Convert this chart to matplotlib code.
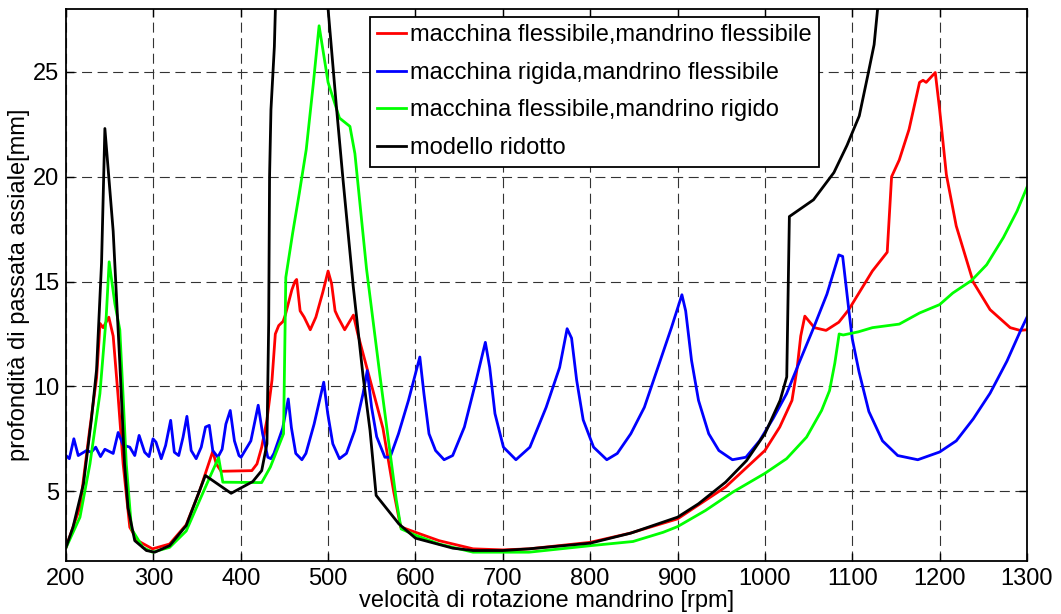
import matplotlib
matplotlib.use("Agg")
import matplotlib.pyplot as plt

# ---------------------------------------------------------------------------
# Data
# ---------------------------------------------------------------------------
RED_X = [200, 216, 227, 235, 239, 242.5, 249, 254, 259.7, 265.4, 273, 282, 299, 318.6,
         337.6, 352.8, 368, 372, 377.6, 412.7, 418.6, 424, 430, 435.8, 439.6, 443.5,
         448.5, 451, 458.5, 462, 464, 468, 472.6, 479.6, 486, 494, 500, 504, 508,
         511.3, 519, 529, 534, 547.5, 562.8, 575, 583, 600, 627, 666, 700, 730, 800,
         846, 900, 955, 1000, 1017, 1031, 1037, 1041, 1045.7, 1056.6, 1070, 1084.6,
         1096, 1123, 1140, 1145, 1153.8, 1165, 1177, 1181, 1184.6, 1195, 1200, 1207.7,
         1219, 1238.5, 1257.7, 1280.8, 1292, 1300]
RED_Y = [2.32, 4.24, 7.9, 10.4, 13.0, 12.8, 13.3, 12.4, 9.5, 6.3, 3.28, 2.64, 2.25, 2.48,
         3.4, 5.0, 6.9, 6.3, 5.95, 5.98, 6.3, 7.1, 8.4, 10.3, 12.5, 12.9,
         13.1, 13.4, 14.6, 15.0, 15.1, 13.6, 13.3, 12.7, 13.3, 14.5, 15.5, 14.9, 13.6,
         13.3, 12.7, 13.4, 12.5, 10.4, 8.0, 5.0, 3.3, 3.04, 2.64, 2.25, 2.2, 2.25, 2.56,
         3.0, 3.68, 5.2, 6.94, 8.06, 9.33, 10.9, 12.4, 13.35, 12.8, 12.67, 13.06,
         13.66, 15.5, 16.4, 20.0, 20.8, 22.26, 24.5, 24.6, 24.5, 24.97, 23.2, 20.1,
         17.65, 14.97, 13.66, 12.8, 12.67, 12.7]

BLUE_X = [200, 203.8, 209, 214, 223.6, 229, 234, 239.5, 244.5, 254, 259.7, 265.4, 273,
          278.7, 283.7, 290, 295, 299.6, 303, 309, 314, 319.8, 324, 329, 334, 338.4,
          343.3, 349, 354.8, 359.7, 364, 368, 373.8, 378.7, 383, 388, 392.8, 398,
          400.4, 411.6, 420, 425, 431, 434.5, 438, 448, 454.4, 458, 463, 470, 474.6,
          484, 495, 499.6, 505.4, 513, 521, 530.5, 540, 544.8, 549.8, 555.6, 565, 571,
          580.6, 592, 605, 609.7, 615.5, 623, 632.8, 642.6, 656, 669.6, 680, 685, 691,
          700.7, 715, 731, 749.6, 765, 773.6, 778.7, 784.5, 792, 803.9, 819, 831,
          846.5, 862, 877.5, 893, 905, 909.3, 916, 924, 935.7, 947.3, 962.8, 978.3,
          993.8, 1009.3, 1024.8, 1040.3, 1055.8, 1071, 1084.6, 1089, 1096, 1100,
          1107.7, 1119, 1134.6, 1152, 1175, 1200, 1219, 1238.5, 1257.7, 1277, 1292, 1300]
BLUE_Y = [6.7, 6.55, 7.5, 6.7, 6.94, 6.86, 7.1, 6.65, 7.0, 6.8, 7.8, 7.2, 7.1,
          6.7, 7.66, 6.86, 6.65, 7.5, 7.34, 6.55, 7.18, 8.38, 6.86, 6.7, 7.58, 8.57,
          6.94, 6.55, 7.1, 8.06, 8.14, 6.94, 6.62, 7.0, 8.2, 8.85, 7.4, 6.7,
          6.62, 7.4, 9.1, 7.75, 6.62, 6.55, 6.8, 8.0, 9.4, 8.03, 6.8, 6.5, 6.8,
          8.2, 10.2, 8.7, 7.26, 6.55, 6.8, 7.9, 9.65, 10.75, 9.0, 7.6, 6.62, 6.62,
          7.74, 9.33, 11.4, 9.65, 7.74, 6.94, 6.5, 6.7, 8.06, 10.3, 12.1, 10.9, 8.7,
          7.1, 6.5, 7.1, 9.0, 10.9, 12.75, 12.3, 10.3, 8.4, 7.1, 6.5, 6.8,
          7.74, 9.0, 10.9, 12.8, 14.37, 13.6, 11.24, 9.33, 7.74, 6.94, 6.5, 6.62,
          7.4, 8.46, 9.65, 11.24, 12.8, 14.4, 16.27, 16.2, 13.66, 12.27,
          10.7, 8.8, 7.4, 6.7, 6.5, 6.87, 7.4, 8.45, 9.67, 11.2, 12.6, 13.3]

GREEN_X = [200, 216, 227.4, 238.8, 246, 249.4, 255.9, 261.6, 265.4, 269, 275, 288, 299,
           318.6, 337.6, 352.8, 366, 374.7, 379.5, 424, 433.9, 449, 451.6, 459.4, 467,
           475, 483, 489.7, 500, 513, 525, 530.7, 544, 559.4, 578, 583.6, 600, 627, 666,
           700, 730, 800, 849, 883.6, 900, 932, 963, 1000, 1024.8, 1047.7, 1064.9, 1074,
           1080, 1085, 1089.6, 1106.9, 1123, 1153.8, 1177, 1200, 1215, 1236.5, 1253.8,
           1273, 1288.5, 1300]
GREEN_Y = [2.3, 3.76, 6.3, 9.65, 13.3, 15.94, 13.95, 12.7, 9.5, 6.3, 3.2, 2.32, 2.09,
           2.32, 3.1, 4.55, 5.8, 6.6, 5.43, 5.41, 6.15, 7.74, 15.2, 17.3, 19.2,
           21.3, 24.4, 27.2, 24.5, 22.8, 22.4, 21.1, 15.6, 10.5, 4.6, 3.2, 2.9, 2.48, 2.09,
           2.09, 2.09, 2.4, 2.6, 3.04, 3.31, 4.08, 4.95, 5.85, 6.55, 7.58, 8.85, 9.8,
           11.1, 12.5, 12.45, 12.6, 12.8, 12.97, 13.5, 13.9, 14.45, 15.05, 15.8,
           17.1, 18.35, 19.5]

BLACK_X = [200, 208, 220, 229, 235, 240.7, 244.5, 254, 261.6, 267, 271, 278.7, 292, 301.5,
           318.6, 337.6, 359.5, 389, 413.8, 424, 430, 432, 433, 434.6, 438.5, 440, 442,
           466, 490, 500, 509.6, 517, 528.7, 540, 548, 555, 581, 600, 643, 666, 700, 730,
           800, 846.5, 900, 924, 955, 979, 1000, 1017.4, 1025, 1028, 1055.6, 1079, 1094,
           1108, 1117.6, 1125, 1129, 1135]
BLACK_Y = [2.32, 3.28, 5.35, 8.4, 10.8, 15.9, 22.3, 17.4, 11.1, 6.3, 4.2, 2.64, 2.17, 2.09,
           2.4, 3.36, 5.75, 4.9, 5.46, 5.98, 7.26, 13.0, 20.0, 23.2, 26.2, 28.5, 32.0,
           40.0, 32.0, 28.0, 23.3, 19.9, 14.8, 10.5, 7.9, 4.8, 3.44, 2.76, 2.28, 2.17, 2.17,
           2.25, 2.52, 3.0, 3.76, 4.4, 5.43, 6.46, 7.74, 9.33, 10.45, 18.1, 18.9, 20.2,
           21.5, 22.9, 24.8, 26.3, 28.0, 31.0]

LABELS = [
    "macchina flessibile,mandrino flessibile",
    "macchina rigida,mandrino flessibile",
    "macchina flessibile,mandrino rigido",
    "modello ridotto",
]
X_TICKS = [200, 300, 400, 500, 600, 700, 800, 900, 1000, 1100, 1200, 1300]
Y_TICKS = [5, 10, 15, 20, 25]

# ---------------------------------------------------------------------------
# Plot
# ---------------------------------------------------------------------------
plt.rcParams["font.family"] = ["Liberation Sans", "DejaVu Sans"]
FS = 17

fig = plt.figure(figsize=(10.61, 6.14), dpi=100)
ax = fig.add_axes([66 / 1061, 53 / 614, 961 / 1061, 552 / 614])

LW = 2.0
ax.plot(RED_X, RED_Y, color="#ff0000", lw=LW, label=LABELS[0])
ax.plot(BLUE_X, BLUE_Y, color="#0000ff", lw=LW, label=LABELS[1])
ax.plot(GREEN_X, GREEN_Y, color="#00ff00", lw=LW, label=LABELS[2])
ax.plot(BLACK_X, BLACK_Y, color="#000000", lw=LW, label=LABELS[3])

ax.set_xlim(200, 1300)
ax.set_ylim(1.67, 28.0)
ax.set_xticks(X_TICKS)
ax.set_yticks(Y_TICKS)
ax.tick_params(direction="in", top=True, right=True, length=6, width=1,
               labelsize=FS, pad=5)
ax.grid(True, color="#333333", lw=0.8, linestyle=(0, (9, 5)))
for sp in ax.spines.values():
    sp.set_linewidth(1.3)

ax.set_xlabel("velocità di rotazione mandrino [rpm]", fontsize=FS, labelpad=0)
ax.set_ylabel("profondità di passata assiale[mm]", fontsize=FS, labelpad=2)

leg = ax.legend(loc="upper left", bbox_to_anchor=(0.316, 0.986), fontsize=FS,
                fancybox=False, framealpha=1, edgecolor="black",
                handlelength=1.2, handletextpad=0.2, labelspacing=0.66,
                borderpad=0.32, borderaxespad=0)
leg.get_frame().set_linewidth(1.3)

fig.savefig("out.png", dpi=100)
